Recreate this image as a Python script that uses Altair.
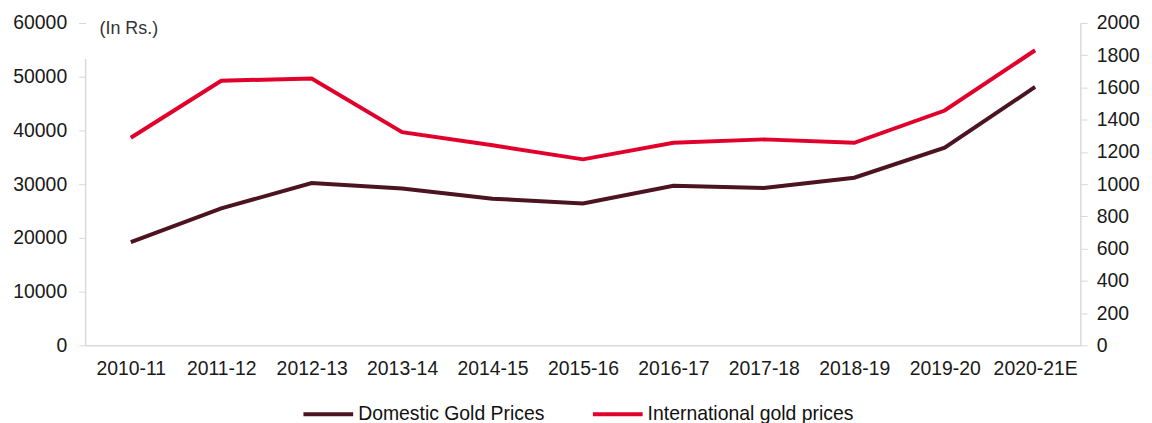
import altair as alt
import pandas as pd

years = ["2010-11", "2011-12", "2012-13", "2013-14", "2014-15", "2015-16",
         "2016-17", "2017-18", "2018-19", "2019-20", "2020-21E"]
domestic = [19200, 25500, 30200, 29200, 27300, 26400, 29700, 29300, 31200, 36800, 48100]
international = [1288, 1642, 1656, 1323, 1241, 1154, 1257, 1278, 1257, 1457, 1831]
series_names = ["Domestic Gold Prices", "International gold prices"]
colors = ["#4b1420", "#e0002b"]
note_text = ["(In Rs.)"]

df_dom = pd.DataFrame({"year": years, "value": domestic, "series": series_names[0]})
df_int = pd.DataFrame({"year": years, "value": international, "series": series_names[1]})
df_note = pd.DataFrame({"text": note_text})

FONT = "Liberation Sans"
x_enc = alt.X("year:N", sort=years, title=None,
              scale=alt.Scale(type="point", padding=0.5),
              axis=alt.Axis(labelAngle=0, ticks=False, domainColor="#d9d9d9",
                            domainWidth=1.5, labelPadding=14, labelFontSize=19.5,
                            labelColor="#1a1a1a", labelFont=FONT))
color_enc = alt.Color("series:N",
                      scale=alt.Scale(domain=series_names, range=colors),
                      legend=alt.Legend(title=None, orient="none", direction="horizontal",
                                        legendX=217, legendY=366,
                                        symbolType="stroke", symbolSize=2500,
                                        symbolStrokeWidth=4, labelFontSize=19.5,
                                        labelFont=FONT, labelColor="#111111",
                                        labelLimit=0,
                                        labelOffset=3, columnPadding=40))

dom_line = alt.Chart(df_dom).mark_line(strokeWidth=4).encode(
    x=x_enc,
    y=alt.Y("value:Q", title=None,
            scale=alt.Scale(domain=[0, 60000]),
            axis=alt.Axis(values=[0, 10000, 20000, 30000, 40000, 50000, 60000],
                          format="d", domain=False, tickColor="#d9d9d9", tickSize=7,
                          labelPadding=12, labelFontSize=19.5, labelFont=FONT,
                          labelColor="#1a1a1a", grid=False)),
    color=color_enc,
)
left_domain = alt.Chart(df_note).mark_rule(color="#d9d9d9", strokeWidth=1.5).encode(
    x=alt.value(0),
    y=alt.Y(datum=0),
    y2=alt.Y2(datum=53300),
)
left = alt.layer(dom_line, left_domain)

right = alt.Chart(df_int).mark_line(strokeWidth=4).encode(
    x=x_enc,
    y=alt.Y("value:Q", title=None,
            scale=alt.Scale(domain=[0, 2000]),
            axis=alt.Axis(orient="right", values=list(range(0, 2001, 200)),
                          format="d", domainColor="#d9d9d9", domainWidth=1.5,
                          tickColor="#d9d9d9", tickSize=7, labelPadding=9,
                          labelFontSize=19.5, labelFont=FONT, labelColor="#1a1a1a",
                          grid=False)),
    color=color_enc,
)

note = alt.Chart(df_note).mark_text(align="left", baseline="middle",
                                     fontSize=18, font=FONT, color="#333333").encode(
    text="text:N", x=alt.value(14), y=alt.value(6)
)

chart = alt.layer(left, right, note).resolve_scale(y="independent").properties(
    width=1000, height=324,
    padding={"left": 78, "top": 14, "right": 64, "bottom": 80},
    autosize=alt.AutoSizeParams(type="none"),
).configure_view(stroke=None)

chart.save("out.html", embed_options={"renderer": "svg", "actions": False})
